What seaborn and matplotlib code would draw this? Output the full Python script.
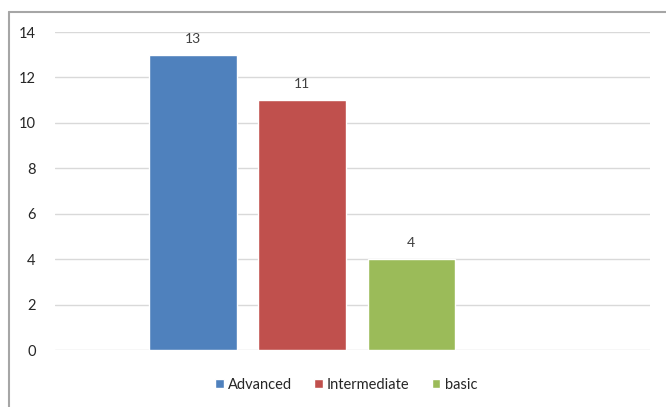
import seaborn as sns
import pandas as pd
import matplotlib.pyplot as plt
from matplotlib.patches import Patch
from matplotlib.lines import Line2D

# data
levels = ['Advanced', 'Intermediate', 'basic']
counts = [13, 11, 4]
colors = ['#4F81BD', '#C0504D', '#9BBB59']
yticks = [0, 2, 4, 6, 8, 10, 12, 14]

df = pd.DataFrame({'level': levels, 'count': counts})

sns.set_style('white')
plt.rcParams['font.family'] = ['Lato', 'DejaVu Sans']

fig = plt.figure(figsize=(6.66, 4.07), dpi=100)
ax = fig.add_axes([55 / 666, 1 - 350 / 407, 595 / 666, 318 / 407])

sns.barplot(data=df, x='level', y='count', hue='level', palette=colors,
            width=0.8, saturation=1, legend=False, ax=ax)

for c in ax.containers:
    ax.bar_label(c, padding=7, fontsize=10, color='#404040')

# layout to match the reference
ax.set_xlim(-1.266, 4.19)
ax.set_ylim(0, 14)
ax.set_yticks(yticks)
ax.set_xticks([])
ax.set_xlabel('')
ax.set_ylabel('')
ax.tick_params(axis='y', length=0, pad=14, labelsize=10.5, labelcolor='#262626')
ax.yaxis.grid(True, color='#D9D9D9', linewidth=1)
ax.set_axisbelow(True)
for s in ax.spines.values():
    s.set_visible(False)

# legend
handles = [Patch(facecolor=col, label=lab) for col, lab in zip(colors, levels)]
fig.legend(handles=handles, loc='center', bbox_to_anchor=(346 / 666, 1 - 385 / 407),
           ncol=3, frameon=False, fontsize=10.5, handlelength=0.6, handleheight=0.6,
           handletextpad=0.3, columnspacing=1.5, labelcolor='#262626')

# outer chart border (left and top edges only, the rest is cropped off)
x0, y0 = 9 / 666, 1 - 12 / 407
fig.lines.append(Line2D([x0, x0], [0, y0], transform=fig.transFigure,
                        color='#A6A6A6', linewidth=1.5))
fig.lines.append(Line2D([x0, 1], [y0, y0], transform=fig.transFigure,
                        color='#A6A6A6', linewidth=1.5))

fig.savefig('out.png', dpi=100)
